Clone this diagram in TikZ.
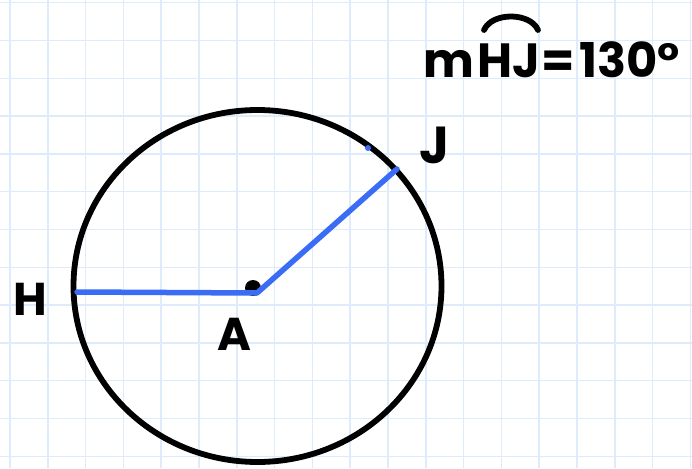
\documentclass[tikz,border=0pt]{standalone}
\usepackage{fontspec}
\newfontfamily\hand{Poppins}
\definecolor{gridblue}{RGB}{221,235,251}
\definecolor{penblue}{RGB}{58,108,246}
\tikzset{
  gridline/.style={gridblue, line width=1.5pt},
  ink/.style={black, line width=5.8pt, line cap=round},
  bluepen/.style={penblue, line width=5.5pt, line cap=round, line join=round},
  lbl/.style={font=\hand\bfseries\fontsize{46}{46}\selectfont, inner sep=0pt},
}
\begin{document}
\begin{tikzpicture}[x=1pt, y=-1pt]
\useasboundingbox (0,0) rectangle (692,468);
\fill[white] (0,0) rectangle (692,468);
% grid
\foreach \i in {0,...,18} {
  \draw[gridline] ({10+37.8*\i},0) -- ({10+37.8*\i},468);
}
\foreach \j in {0,...,12} {
  \draw[gridline] (0,{2.7+37.8*\j}) -- (692,{2.7+37.8*\j});
}
% points
\coordinate (A) at (257,293);
\coordinate (H) at (77,292);
\coordinate (J) at (397,169);
\coordinate (C) at (257.5,286);
% circle
\draw[ink] (C) ellipse [x radius=184, y radius=176];
% center dot
\fill[black] (253,288) circle [radius=8];
% radii
\draw[bluepen] (H) -- (A) -- (J);
\fill[penblue] (368,148) circle [radius=3];
% labels
\node[lbl] (Hl) at (30,299) {H};
\node[lbl] (Al) at (234,334) {A};
\node[lbl, font=\hand\bfseries\fontsize{52}{52}\selectfont] (Jl) at (435,145) {J};
% measure
\node[lbl, anchor=base west, font=\hand\bfseries\fontsize{48}{48}\selectfont] (eq) at (423,78) {m\hspace{3pt}HJ\hspace{2pt}=\hspace{4pt}130°};
\draw[ink] (484,30) .. controls (492,12) and (530,12) .. (538,30);
\end{tikzpicture}
\end{document}
